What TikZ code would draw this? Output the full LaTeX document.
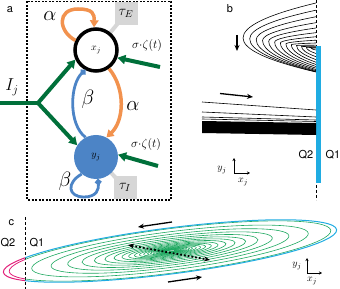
\documentclass[tikz,border=0pt]{standalone}
\usepackage{amsmath}
\usepackage{fontspec}
\setsansfont{TeX Gyre Heros}
\usetikzlibrary{arrows.meta,backgrounds}

\definecolor{drivegreen}{RGB}{0,112,58}
\definecolor{exorange}{RGB}{242,146,78}
\definecolor{inhblue}{RGB}{76,132,198}
\definecolor{qcyan}{RGB}{32,172,226}
\definecolor{qpink}{RGB}{226,32,122}
\definecolor{orbgreen}{RGB}{30,168,96}
\definecolor{taugray}{RGB}{214,214,214}

\begin{document}
\begin{tikzpicture}[x=1pt, y=1pt,
  lbl/.style={font=\sffamily\fontsize{11}{11}\selectfont, inner sep=0pt},
  coup/.style={font=\huge, inner sep=0pt},
  noiselbl/.style={font=\large, inner sep=0pt},
  greenarr/.style={drivegreen, line width=4pt, -{Triangle[length=8pt,width=9pt]}},
  orangearr/.style={exorange, line width=3.5pt, -{Triangle[length=7pt,width=8.5pt]}},
  bluelink/.style={inhblue, line width=2.8pt, -{Circle[length=6pt]}},
  taubox/.style={fill=taugray, minimum width=23pt, minimum height=23pt, inner sep=0pt, font=\Large},
  taulink/.style={taugray, line width=4pt},
  flow/.style={black, line width=0.6pt},
  blackarr/.style={black, line width=1.3pt, -{Stealth[length=6pt,width=5pt]}},
  axarr/.style={black, line width=0.6pt, -{Stealth[length=3pt,width=3pt]}},
  orbit/.style={orbgreen, line width=0.6pt}]
\useasboundingbox (0,0) rectangle (340,289);

% panel a: the E-I pair
\node[lbl] (tagA) at (10,279) {a};
\draw[line width=1.2pt, dash pattern=on 2pt off 1.5pt] (27,287.5) rectangle (171,89);
\node[circle, draw=black, line width=3.5pt, fill=white, minimum size=42pt, inner sep=0pt] (xj) at (96,239) {$x_j$};
\node[circle, fill=inhblue, minimum size=44pt, inner sep=0pt] (yj) at (96,132) {$y_j$};
\node[taubox] (tauE) at (126,275.5) {$\tau_E$};
\node[taubox] (tauI) at (125,101.5) {$\tau_I$};
\begin{scope}[on background layer]
  \draw[taulink] (tauE.center) -- (xj.center);
  \draw[taulink] (tauI.center) -- (yj.center);
\end{scope}

% input I_j
\coordinate (ijin) at (0,186);
\coordinate (ijfork) at (38,186);
\draw[drivegreen, line width=4pt, line cap=round] (ijin) -- (ijfork);
\draw[greenarr] (ijfork) -- (xj.205);
\draw[greenarr] (ijfork) -- (yj.148);
\node[font=\LARGE, inner sep=0pt] (lblIj) at (12,202) {$I_j$};

% noise
\coordinate (noisex) at (160,222);
\draw[greenarr] (noisex) -- (xj.340);
\node[noiselbl] (lblnx) at (147,243) {$\sigma{\cdot}\zeta(t)$};
\coordinate (noisey) at (158,123);
\draw[greenarr] (noisey) -- (yj.6);
\node[noiselbl] (lblny) at (146,144) {$\sigma{\cdot}\zeta(t)$};

% couplings
\draw[orangearr] (xj.155) .. controls (58,258) and (57,280) .. (78,280)
  .. controls (93,280) and (94.5,275) .. (xj.95);
\node[coup] (lblaxx) at (50,273) {$\alpha$};
\draw[orangearr] (xj.-55) .. controls (126,200) and (124,168) .. (yj.62);
\node[coup] (lblaxy) at (133,183) {$\alpha$};
\draw[bluelink] (yj.118) .. controls (68,165) and (70,205) .. (xj.-118);
\node[coup] (lblbyx) at (88,190) {$\beta$};
\draw[bluelink] (yj.-130) .. controls (66,106) and (68,92) .. (84,92)
  .. controls (97,92) and (99,100) .. (yj.-85);
\node[coup] (lblbyy) at (65,108) {$\beta$};

% panel b: trajectories near Q1/Q2 border
\node[lbl] (tagB) at (230,280) {b};
\draw[densely dashed, line width=0.8pt] (316,289) -- (316,89);
\foreach \k in {0,...,12}{
  \pgfmathsetmacro{\s}{\k/12}
  \pgfmathsetmacro{\vx}{243+68*\s*(1.2-0.2*\s)}
  \pgfmathsetmacro{\vy}{289-(38+10*\s)}
  \pgfmathsetmacro{\ty}{289-(3+45*\s*(2-\s))}
  \pgfmathsetmacro{\by}{289-(72-22*\s*\s)}
  \draw[flow] (316,\ty) .. controls ({316-2/3*(316-\vx)},{\ty+(\vy-\ty)/3}) and (\vx,{\vy+(\ty-\vy)/3}) .. (\vx,\vy)
    .. controls (\vx,{\vy+(\by-\vy)/3}) and ({316-2/3*(316-\vx)},{\by+(\vy-\by)/3}) .. (316,\by);
}
\draw[qcyan, line width=4.5pt] (318.5,243) -- (318.5,106);
\draw[blackarr] (237,254) -- (237,238);
\draw[flow] (202,187) -- (316,179);
\draw[flow] (202,177) -- (316,172);
\draw[flow] (202,172) -- (316,169);
\draw[flow] (202,170) -- (316,167.5);
\fill[black] (202,168) -- (316,166) -- (316,154) -- (202,156) -- cycle;
\draw[blackarr] (220,195.5) -- (253,192);
\node[lbl] (q2b) at (306,134) {Q2};
\node[lbl] (q1b) at (333,134) {Q1};
\coordinate (axb) at (234,116);
\draw[axarr] (axb) -- ++(0,15);
\draw[axarr] (axb) -- ++(16,0);
\node[inner sep=0pt] (ylb) at (222,119) {$y_j$};
\node[inner sep=0pt] (xlb) at (243,107) {$x_j$};

% panel c: orbits around the fixed point
\node[lbl] (tagC) at (11.5,66.5) {c};
\draw[densely dashed, line width=0.8pt] (25,72) -- (25,0);
\node[lbl] (q2c) at (8,46) {Q2};
\node[lbl] (q1c) at (37,46) {Q1};
\begin{scope}
  \clip (25,-5) rectangle (345,75);
  \foreach \k in {0,...,22}{
    \pgfmathsetmacro{\s}{0.965*0.86^\k}
    \draw[orbit, rotate around={7.3:(170,38)}] (170,38) ellipse [x radius={168*\s}, y radius={23*\s}];
  }
  \draw[qcyan, line width=1pt, rotate around={7.3:(170,38)}] (170,38) ellipse [x radius=168, y radius=23];
\end{scope}
\begin{scope}
  \clip (-5,-5) rectangle (25,75);
  \draw[qpink, line width=0.8pt, rotate around={7.3:(170,38)}] (170,38) ellipse [x radius={168*0.965}, y radius={23*0.965}];
  \draw[qpink, line width=1pt, rotate around={7.3:(170,38)}] (170,38) ellipse [x radius=168, y radius=23];
\end{scope}
\draw[black, dotted, line width=1.8pt, {Stealth[length=6pt,width=5pt]}-{Stealth[length=6pt,width=5pt]}] (128,44) -- (210,29);
\draw[blackarr] (172,67) -- (138,62);
\draw[blackarr] (168,7) -- (202,12);
\coordinate (axc) at (307,16);
\draw[axarr] (axc) -- ++(0,15);
\draw[axarr] (axc) -- ++(15,0);
\node[inner sep=0pt] (ylc) at (297,23) {$y_j$};
\node[inner sep=0pt] (xlc) at (312,8) {$x_j$};
\end{tikzpicture}
\end{document}
